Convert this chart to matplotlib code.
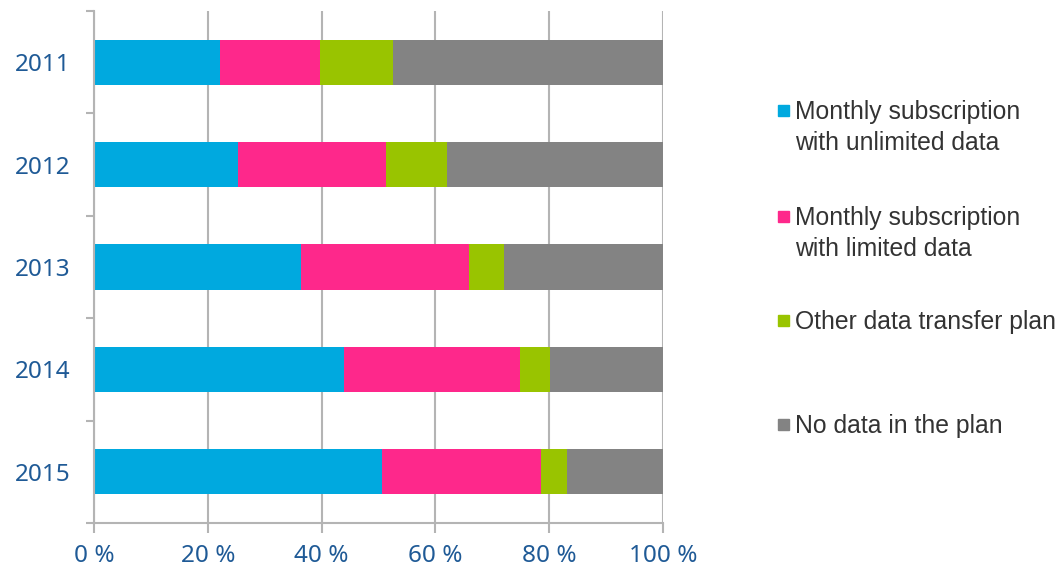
import numpy as np
import matplotlib
matplotlib.use("Agg")
from matplotlib import pyplot as plt
from matplotlib.patches import Rectangle

years = ["2011", "2012", "2013", "2014", "2015"]
unlimited = [22.2, 25.3, 36.3, 44.0, 50.7]
limited = [17.5, 26.0, 29.6, 30.8, 27.9]
other = [12.8, 10.7, 6.1, 5.3, 4.5]
no_data = [47.5, 38.0, 28.0, 19.9, 16.9]

series = [unlimited, limited, other, no_data]
names = ["Monthly subscription\nwith unlimited data",
         "Monthly subscription\nwith limited data",
         "Other data transfer plan",
         "No data in the plan"]
colors = ["#00a9df", "#fe288b", "#99c400", "#838383"]

grid_c = "#b4b4b4"
tick_c = "#1f5a96"

fig = plt.figure(figsize=(10.62, 5.70), dpi=100)
ax = fig.add_axes([94/1062, 1 - 523/570, (663 - 94)/1062, (523 - 11)/570])

y = np.arange(len(years))
left = np.zeros(len(years))
for vals, c in zip(series, colors):
    ax.barh(y, vals, left=left, height=0.44, color=c, zorder=2)
    left += np.array(vals)

ax.set_xlim(0, 100)
ax.set_ylim(len(years) - 0.5, -0.5)
ax.set_xticks(range(0, 101, 20))
ax.set_xticklabels(["%d %%" % v for v in range(0, 101, 20)], family="Noto Sans")
ax.set_yticks(y)
ax.set_yticklabels(years, family="Noto Sans")
ax.set_yticks(np.arange(-0.5, len(years)), minor=True)

ax.grid(axis="x", color=grid_c, lw=1.5, zorder=0)
for s in ["top", "right"]:
    ax.spines[s].set_visible(False)
for s in ["left", "bottom"]:
    ax.spines[s].set_color(grid_c)
    ax.spines[s].set_linewidth(1.5)

ax.tick_params(axis="x", length=7, width=1.5, color=grid_c, pad=8,
               labelsize=17.5, labelcolor=tick_c)
ax.tick_params(axis="y", which="major", length=0, pad=17,
               labelsize=17.5, labelcolor=tick_c)
ax.tick_params(axis="y", which="minor", length=6, width=1.5, color=grid_c)

# legend on the right
leg_y = [110, 216, 320, 424]
for name, c, yy in zip(names, colors, leg_y):
    fig.patches.append(Rectangle((778/1062, 1 - (yy + 6)/570), 11/1062, 11/570,
                                 transform=fig.transFigure, color=c))
    fig.text(795/1062, 1 - (yy - 10)/570, name, fontsize=17.8, va="top",
             ha="left", color="#333333", family="Liberation Sans",
             linespacing=1.38)

fig.savefig("out.png", dpi=100)
